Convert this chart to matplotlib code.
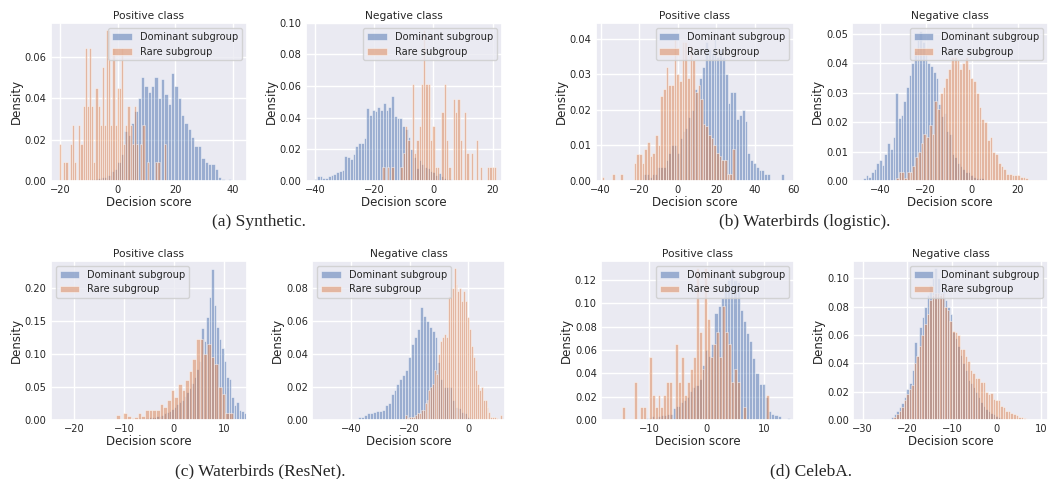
import numpy as np
import matplotlib
matplotlib.use('Agg')
import matplotlib.pyplot as plt
import seaborn as sns

# ---- histogram data: (left edge, bin width) + density per bin ----
# (a) Synthetic
syn_pos_dom_bins = (-14.0, 1.16)
syn_pos_dom = [0.0003, 0.0, 0.0005, 0.0005, 0.001, 0.001, 0.0015, 0.002, 0.002, 0.003,
               0.005, 0.006, 0.009, 0.013, 0.024, 0.022, 0.028, 0.034, 0.04, 0.05,
               0.046, 0.043, 0.046, 0.05, 0.04, 0.049, 0.042, 0.037, 0.052, 0.046,
               0.04, 0.032, 0.028, 0.025, 0.021, 0.017, 0.017, 0.011, 0.009, 0.008,
               0.008, 0.006, 0.002, 0.001, 0.0005, 0.001, 0.0, 0.0005, 0.0, 0.0003]
syn_pos_rare_bins = (-20.3, 0.74)
syn_pos_rare = [0.018, 0.0, 0.009, 0.009, 0.0, 0.018, 0.027, 0.009, 0.0, 0.027,
                0.018, 0.036, 0.064, 0.036, 0.064, 0.036, 0.009, 0.045, 0.036, 0.027,
                0.055, 0.027, 0.073, 0.073, 0.027, 0.064, 0.027, 0.045, 0.045, 0.064,
                0.018, 0.027, 0.036, 0.027, 0.018, 0.036, 0.018, 0.0, 0.018, 0.027,
                0.0, 0.009, 0.0, 0.0, 0.0, 0.009, 0.009, 0.0, 0.0, 0.018]
syn_neg_dom_bins = (-40.3, 0.93)
syn_neg_dom = [0.001, 0.003, 0.003, 0.002, 0.002, 0.003, 0.004, 0.0045, 0.006, 0.0065,
               0.007, 0.016, 0.015, 0.014, 0.017, 0.022, 0.024, 0.024, 0.027, 0.046,
               0.042, 0.045, 0.044, 0.047, 0.045, 0.049, 0.045, 0.047, 0.054, 0.041,
               0.04, 0.04, 0.035, 0.033, 0.028, 0.02, 0.015, 0.008, 0.013, 0.011,
               0.009, 0.008, 0.0065, 0.006, 0.004, 0.005, 0.003, 0.002, 0.001, 0.001]
syn_neg_rare_bins = (-17.3, 0.77)
syn_neg_rare = [0.0087, 0.0, 0.0087, 0.0, 0.0087, 0.0, 0.0, 0.0, 0.0087, 0.0174,
                0.0348, 0.026, 0.0, 0.061, 0.0174, 0.026, 0.0348, 0.061, 0.0955, 0.061,
                0.061, 0.026, 0.0348, 0.0087, 0.0087, 0.0, 0.0435, 0.061, 0.026, 0.0087,
                0.0, 0.052, 0.0435, 0.052, 0.026, 0.0, 0.0435, 0.0174, 0.0, 0.0174,
                0.0, 0.026, 0.0, 0.0087, 0.0, 0.0, 0.0087, 0.0087, 0.0087, 0.0087]

# (b) Waterbirds (logistic)
wbl_pos_dom_bins = (-18.0, 1.46)
wbl_pos_dom = [0.002, 0.002, 0.001, 0.002, 0.002, 0.004, 0.004, 0.004, 0.006, 0.008,
               0.01, 0.01, 0.008, 0.012, 0.014, 0.015, 0.018, 0.02, 0.026, 0.025,
               0.029, 0.032, 0.039, 0.037, 0.036, 0.04, 0.035, 0.037, 0.035, 0.03,
               0.022, 0.025, 0.025, 0.0175, 0.0185, 0.02, 0.017, 0.008, 0.006, 0.005,
               0.004, 0.003, 0.003, 0.002, 0.002, 0.0, 0.0, 0.0, 0.0, 0.002]
wbl_pos_rare_bins = (-39.5, 1.38)
wbl_pos_rare = [0.001, 0.0, 0.0, 0.0, 0.002, 0.0, 0.0, 0.002, 0.0, 0.0,
                0.0, 0.0, 0.005, 0.0075, 0.0075, 0.005, 0.009, 0.011, 0.007, 0.008,
                0.013, 0.01, 0.024, 0.026, 0.032, 0.027, 0.027, 0.04, 0.03, 0.028,
                0.039, 0.039, 0.029, 0.038, 0.034, 0.025, 0.027, 0.023, 0.016, 0.0155,
                0.013, 0.012, 0.01, 0.008, 0.007, 0.006, 0.006, 0.002, 0.002, 0.009]
wbl_neg_dom_bins = (-48.5, 1.17)
wbl_neg_dom = [0.0005, 0.001, 0.002, 0.0015, 0.003, 0.004, 0.006, 0.007, 0.0055, 0.009,
               0.013, 0.011, 0.015, 0.03, 0.0215, 0.0225, 0.027, 0.032, 0.036, 0.04,
               0.044, 0.048, 0.051, 0.047, 0.043, 0.04, 0.039, 0.037, 0.035, 0.026,
               0.022, 0.023, 0.017, 0.016, 0.009, 0.008, 0.006, 0.005, 0.004, 0.003,
               0.003, 0.002, 0.0015, 0.001, 0.001, 0.001, 0.0005, 0.0005, 0.0005, 0.0005]
wbl_neg_rare_bins = (-33.0, 1.2)
wbl_neg_rare = [0.001, 0.003, 0.003, 0.001, 0.003, 0.003, 0.005, 0.008, 0.01, 0.013,
                0.016, 0.015, 0.019, 0.016, 0.027, 0.0245, 0.03, 0.032, 0.035, 0.038,
                0.042, 0.042, 0.041, 0.038, 0.04, 0.042, 0.038, 0.035, 0.034, 0.03,
                0.025, 0.021, 0.02, 0.014, 0.015, 0.01, 0.009, 0.006, 0.005, 0.004,
                0.0025, 0.0025, 0.002, 0.002, 0.002, 0.0015, 0.0015, 0.001, 0.0005, 0.0003,
                0.0003, 0.0003]

# (c) Waterbirds (ResNet)
wbr_pos_dom_bins = (-11.0, 0.5)
wbr_pos_dom = [0.001, 0.001, 0.001, 0.002, 0.0, 0.002, 0.002, 0.002, 0.003, 0.002,
               0.003, 0.003, 0.004, 0.004, 0.005, 0.006, 0.006, 0.008, 0.01, 0.012,
               0.014, 0.016, 0.02, 0.024, 0.027, 0.03, 0.036, 0.042, 0.048, 0.056,
               0.066, 0.078, 0.09, 0.139, 0.12, 0.157, 0.187, 0.23, 0.175, 0.142,
               0.123, 0.11, 0.089, 0.066, 0.063, 0.035, 0.023, 0.028, 0.015, 0.013,
               0.011]
wbr_pos_rare_bins = (-23.3, 0.73)
wbr_pos_rare = [0.002, 0.002, 0.0, 0.0, 0.0, 0.0, 0.0, 0.0, 0.0, 0.001,
                0.001, 0.0, 0.001, 0.0, 0.0, 0.001, 0.008, 0.002, 0.011, 0.006,
                0.003, 0.005, 0.01, 0.006, 0.015, 0.015, 0.015, 0.015, 0.025, 0.02,
                0.03, 0.045, 0.035, 0.055, 0.045, 0.06, 0.075, 0.092, 0.123, 0.123,
                0.1, 0.115, 0.095, 0.085, 0.05, 0.04, 0.01, 0.01, 0.002, 0.001]
wbr_neg_dom_bins = (-50.5, 1.0)
wbr_neg_dom = [0.0003, 0.0, 0.0, 0.0, 0.0, 0.0, 0.0, 0.0, 0.0, 0.0,
               0.0, 0.0005, 0.0005, 0.002, 0.002, 0.003, 0.004, 0.004, 0.005, 0.0055,
               0.0055, 0.006, 0.009, 0.01, 0.016, 0.018, 0.022, 0.025, 0.027, 0.03,
               0.038, 0.046, 0.05, 0.055, 0.068, 0.063, 0.06, 0.056, 0.054, 0.05,
               0.035, 0.025, 0.02, 0.02, 0.02, 0.012, 0.008, 0.007, 0.005, 0.004,
               0.002, 0.001]
wbr_neg_rare_bins = (-21.5, 0.66)
wbr_neg_rare = [0.003, 0.001, 0.002, 0.002, 0.002, 0.003, 0.004, 0.004, 0.006, 0.006,
                0.01, 0.012, 0.018, 0.02, 0.022, 0.03, 0.028, 0.04, 0.048, 0.05,
                0.052, 0.05, 0.075, 0.08, 0.08, 0.092, 0.082, 0.078, 0.08, 0.072,
                0.078, 0.072, 0.062, 0.055, 0.045, 0.038, 0.03, 0.022, 0.018, 0.02,
                0.012, 0.012, 0.008, 0.005, 0.002, 0.002, 0.002, 0.001, 0.0, 0.003]

# (d) CelebA
cel_pos_dom_bins = (-13.0, 0.55)
cel_pos_dom = [0.001, 0.0, 0.001, 0.0, 0.002, 0.002, 0.003, 0.002, 0.003, 0.004,
               0.004, 0.005, 0.005, 0.01, 0.012, 0.015, 0.017, 0.02, 0.025, 0.028,
               0.03, 0.035, 0.047, 0.06, 0.055, 0.065, 0.092, 0.098, 0.105, 0.115,
               0.12, 0.13, 0.12, 0.118, 0.094, 0.085, 0.075, 0.068, 0.053, 0.04,
               0.031, 0.031, 0.02, 0.008, 0.005, 0.004, 0.003, 0.0, 0.0, 0.002]
cel_pos_rare_bins = (-14.7, 0.51)
cel_pos_rare = [0.0108, 0.0, 0.0, 0.0, 0.0325, 0.0, 0.0108, 0.0108, 0.0, 0.0542,
                0.0217, 0.0108, 0.0217, 0.0108, 0.0217, 0.0325, 0.0325, 0.0, 0.065, 0.0325,
                0.0542, 0.0217, 0.0325, 0.0433, 0.0542, 0.13, 0.0758, 0.0433, 0.13, 0.0867,
                0.0542, 0.065, 0.0758, 0.0542, 0.0975, 0.0758, 0.065, 0.0325, 0.0433, 0.0325,
                0.0, 0.0108, 0.0, 0.0, 0.0, 0.0, 0.0, 0.0, 0.0, 0.0217]
cel_neg_dom_bins = (-27.6, 0.57)
cel_neg_dom = [0.0005, 0.0, 0.0, 0.0, 0.0005, 0.0, 0.001,
               0.002, 0.004, 0.006, 0.009, 0.012, 0.016, 0.022, 0.026, 0.035, 0.055,
               0.045, 0.066, 0.073, 0.08, 0.088, 0.095, 0.1, 0.107, 0.1, 0.09,
               0.092, 0.085, 0.08, 0.075, 0.062, 0.058, 0.052, 0.046, 0.04, 0.035,
               0.028, 0.026, 0.023, 0.02, 0.016, 0.013, 0.01, 0.008, 0.006, 0.005,
               0.004, 0.003, 0.002, 0.001, 0.0, 0.0005]
cel_neg_rare_bins = (-23.1, 0.57)
cel_neg_rare = [0.002, 0.004, 0.006, 0.009, 0.014, 0.018, 0.022, 0.025, 0.04, 0.045,
                0.052, 0.06, 0.068, 0.075, 0.085, 0.088, 0.09, 0.09, 0.088, 0.09,
                0.08, 0.078, 0.07, 0.063, 0.062, 0.06, 0.05, 0.05, 0.045, 0.042,
                0.035, 0.033, 0.03, 0.03, 0.027, 0.027, 0.02, 0.018, 0.019, 0.015,
                0.014, 0.014, 0.01, 0.009, 0.006, 0.006, 0.005, 0.004, 0.0035, 0.002,
                0.002, 0.0015, 0.0005]

captions = ['(a) Synthetic.', '(b) Waterbirds (logistic).',
            '(c) Waterbirds (ResNet).', '(d) CelebA.']

sns.set_theme(style='darkgrid')
plt.rcParams['font.family'] = ['DejaVu Sans']
plt.rcParams.update({'font.size': 7, 'axes.titlesize': 7.7, 'axes.labelsize': 8.5,
                     'xtick.labelsize': 7.1, 'ytick.labelsize': 7.1, 'legend.fontsize': 7.1})

BLUE, ORANGE = '#4C72B0', '#DD8452'


def draw(ax, title, dom, dom_bins, rare, rare_bins, xlim, ytop, xstep, ystep, loc):
    for vals, (start, w), color, label in [(dom, dom_bins, BLUE, 'Dominant subgroup'),
                                           (rare, rare_bins, ORANGE, 'Rare subgroup')]:
        edges = start + w * np.arange(len(vals) + 1)
        centers = (edges[:-1] + edges[1:]) / 2
        ax.hist(centers, bins=edges, weights=vals, color=color, alpha=0.5,
                edgecolor='white', linewidth=0.6, label=label)
    ax.set_xlim(*xlim)
    ax.set_ylim(0, ytop)
    ax.xaxis.set_major_locator(plt.MultipleLocator(xstep))
    ax.yaxis.set_major_locator(plt.MultipleLocator(ystep))
    ax.yaxis.set_major_formatter(plt.FormatStrFormatter('%.2f'))
    ax.tick_params(length=0, pad=3)
    ax.set_title(title, pad=3)
    ax.set_xlabel('Decision score', labelpad=0.5)
    ax.set_ylabel('Density', labelpad=1.5)
    ax.legend(loc=loc)


fig = plt.figure(figsize=(10.5, 4.79), dpi=100)

top_row, bot_row = (0.6221, 0.3305), (0.1232, 0.3326)
ax = fig.add_axes([0.0483, top_row[0], 0.1867, top_row[1]])
draw(ax, 'Positive class', syn_pos_dom, syn_pos_dom_bins, syn_pos_rare, syn_pos_rare_bins,
     (-23.2, 44.7), 0.0764, 20, 0.02, 'upper right')
ax = fig.add_axes([0.2911, top_row[0], 0.1867, top_row[1]])
draw(ax, 'Negative class', syn_neg_dom, syn_neg_dom_bins, syn_neg_rare, syn_neg_rare_bins,
     (-43.2, 23.1), 0.10, 20, 0.02, 'upper right')
ax = fig.add_axes([0.5673, top_row[0], 0.1891, top_row[1]])
draw(ax, 'Positive class', wbl_pos_dom, wbl_pos_dom_bins, wbl_pos_rare, wbl_pos_rare_bins,
     (-42.6, 60.3), 0.0445, 20, 0.01, 'upper right')
ax = fig.add_axes([0.8117, top_row[0], 0.1867, top_row[1]])
draw(ax, 'Negative class', wbl_neg_dom, wbl_neg_dom_bins, wbl_neg_rare, wbl_neg_rare_bins,
     (-52.0, 33.4), 0.0537, 20, 0.01, 'upper right')

ax = fig.add_axes([0.0483, bot_row[0], 0.1872, bot_row[1]])
draw(ax, 'Positive class', wbr_pos_dom, wbr_pos_dom_bins, wbr_pos_rare, wbr_pos_rare_bins,
     (-24.7, 14.7), 0.242, 10, 0.05, 'upper left')
ax = fig.add_axes([0.2974, bot_row[0], 0.1835, bot_row[1]])
draw(ax, 'Negative class', wbr_neg_dom, wbr_neg_dom_bins, wbr_neg_rare, wbr_neg_rare_bins,
     (-53.2, 12.5), 0.0963, 20, 0.02, 'upper left')
ax = fig.add_axes([0.5724, bot_row[0], 0.1841, bot_row[1]])
draw(ax, 'Positive class', cel_pos_dom, cel_pos_dom_bins, cel_pos_rare, cel_pos_rare_bins,
     (-18.4, 15.2), 0.1366, 10, 0.02, 'upper right')
ax = fig.add_axes([0.8127, bot_row[0], 0.1857, bot_row[1]])
draw(ax, 'Negative class', cel_neg_dom, cel_neg_dom_bins, cel_neg_rare, cel_neg_rare_bins,
     (-32.1, 11.6), 0.1125, 10, 0.02, 'upper right')

cap_pos = [(0.2467, 0.5365), (0.7667, 0.5365), (0.2476, 0.0167), (0.7724, 0.0167)]
for (x, y), text in zip(cap_pos, captions):
    fig.text(x, y, text, ha='center', va='center', family='Liberation Serif', fontsize=12.5)

fig.savefig('out.png', dpi=100)
